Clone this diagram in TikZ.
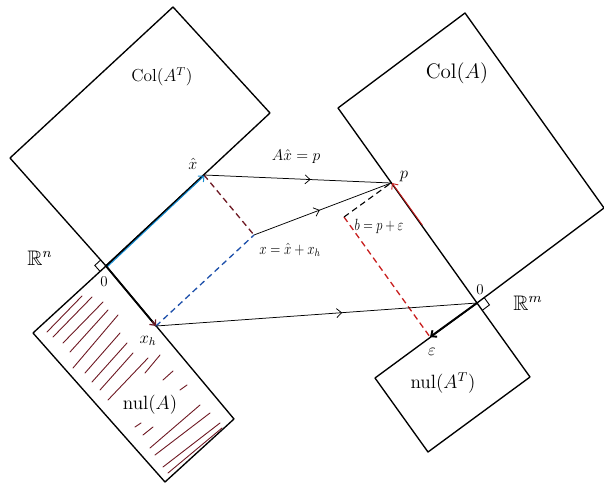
\documentclass[tikz,border=0pt]{standalone}
\usepackage{amssymb}
\usetikzlibrary{calc,arrows.meta,decorations.markings}
\definecolor{hatblue}{RGB}{20,140,210}
\definecolor{maroon}{RGB}{110,25,35}
\definecolor{dashblue}{RGB}{30,80,170}
\definecolor{dashred}{RGB}{200,30,30}
\tikzset{
  edge/.style={line width=1.35pt, line join=round},
  thinvec/.style={line width=0.75pt},
  thickvec/.style={line width=1.9pt},
  dashvec/.style={line width=1.3pt, dash pattern=on 6pt off 4pt},
  lbl/.style={inner sep=1pt, font=\large, transform shape},
  hatch/.style={maroon, line width=0.9pt, line cap=round},
  barb/.style={-{Straight Barb[length=4.5pt,width=8pt]}},
  midarrow/.style={postaction={decorate},decoration={markings,
     mark=at position #1 with {\arrow{Straight Barb[length=5pt,width=9pt]}}}}
}
\begin{document}
\begin{tikzpicture}[x=1pt,y=-1pt]
\useasboundingbox (0,0) rectangle (604,484);
% ---------- left space R^n ----------
\coordinate (cT) at (173,7);
\coordinate (cR) at (270,113);
\coordinate (cL) at (10,158);
\coordinate (O1) at (106,266);
\coordinate (nR) at (234,419);
\coordinate (nB) at (165,482);
\coordinate (nL) at (33,333);
\coordinate (xhat) at (204,175);
\coordinate (xh) at (156,326);
\coordinate (xpt) at (254,235);
% hatching of nul(A)
\foreach \a/\b in {
 {47,332}/{82,296},{53,337}/{92,297},{63,343}/{103,302},{70,352}/{108,310},
 {73,368}/{118,315},{85,373}/{120,333},{92,382}/{127,343},{100,390}/{133,353},
 {108,400}/{148,358},{145,373}/{160,355},{163,380}/{173,371},{180,390}/{187,385},
 {135,427}/{141,423},{143,435}/{153,427},{150,448}/{200,405},{155,455}/{210,413},
 {163,467}/{220,423},{168,473}/{222,428}}
  \draw[hatch] (\a) -- (\b);
\draw[edge] (cT) -- (cR) -- (O1) -- (cL) -- cycle;
\draw[edge] (O1) -- (nR) -- (nB) -- (nL) -- cycle;
\draw[line width=0.9pt] ($(O1)!8pt!(cL)$) -- ($(O1)!8pt!(cL)+(O1)!8pt!(nL)-(O1)$) -- ($(O1)!8pt!(nL)$);
% vectors
\draw[thickvec] (O1) -- (xhat);
\draw[hatblue, line width=1pt, barb] ($(O1)+(1,1)$) -- ($(xhat)+(0.5,0.5)$);
\draw[thickvec] (O1) -- (xh);
\draw[maroon, line width=1.2pt, barb] ($(xh)!6pt!(O1)$) -- (xh);
\draw[dashvec, maroon] (xhat) -- (xpt);
\draw[dashvec, dashblue] (xh) -- (xpt);
% ---------- right space R^m ----------
\coordinate (rT) at (465,13);
\coordinate (rL) at (338,108);
\coordinate (O2) at (477,303);
\coordinate (rR) at (604,208);
\coordinate (mR) at (530,377);
\coordinate (mB) at (428,452);
\coordinate (mL) at (375,378);
\coordinate (p) at (391,183);
\coordinate (eps) at (430,337);
\coordinate (b) at (344,217);
\draw[edge] (rT) -- (rR) -- (O2) -- (rL) -- cycle;
\draw[edge] (O2) -- (mR) -- (mB) -- (mL) -- cycle;
\draw[line width=0.9pt] ($(O2)!9pt!(mR)$) -- ($(O2)!9pt!(mR)+(O2)!9pt!(rR)-(O2)$) -- ($(O2)!9pt!(rR)$);
\draw[dashred, line width=0.9pt, barb] ($(p)!0.35!(O2)+(1.2,0)$) -- ($(p)+(1,0)$);
\draw[thickvec, barb] (O2) -- (eps);
\draw[dashvec, dashred] (b) -- (eps);
\draw[dashvec, black, line width=1.1pt] (b) -- (p);
% ---------- mappings ----------
\draw[thinvec, midarrow=0.57] (xhat) -- (p);
\draw[thinvec, midarrow=0.48] (xpt) -- (p);
\draw[thinvec, midarrow=0.58] (xh) -- (O2);
% ---------- labels ----------
\node[lbl, scale=1.45] (lColAT) at (162,77) {$\mathrm{Col}(A^T)$};
\node[lbl, scale=1.35] (lxhat) at (193,164) {$\hat{x}$};
\node[lbl, scale=1.75] (lRn) at (40,258) {$\mathbb{R}^n$};
\node[lbl, scale=1.25] (l0a) at (104,282) {$0$};
\node[lbl, scale=1.4] (lxh) at (148,341) {$x_h$};
\node[lbl, scale=1.6] (lnulA) at (150,405) {$\mathrm{nul}(A)$};
\node[lbl, scale=1.3] (lAx) at (296,157) {$A\hat{x}=p$};
\node[lbl, scale=1.4] (lp) at (404,177) {$p$};
\node[lbl, xscale=1.05, yscale=1.35] (lb) at (379,226) {$b=p+\varepsilon$};
\node[lbl, xscale=1.1, yscale=1.35] (lx) at (290,250) {$x=\hat{x}+x_h$};
\node[lbl, scale=1.75] (lColA) at (457,73) {$\mathrm{Col}(A)$};
\node[lbl, scale=1.25] (l0b) at (480,290) {$0$};
\node[lbl, scale=1.75] (lRm) at (528,303) {$\mathbb{R}^m$};
\node[lbl, scale=1.4] (leps) at (432,352) {$\varepsilon$};
\node[lbl, scale=1.6] (lnulAT) at (443,383) {$\mathrm{nul}(A^T)$};
\end{tikzpicture}
\end{document}
